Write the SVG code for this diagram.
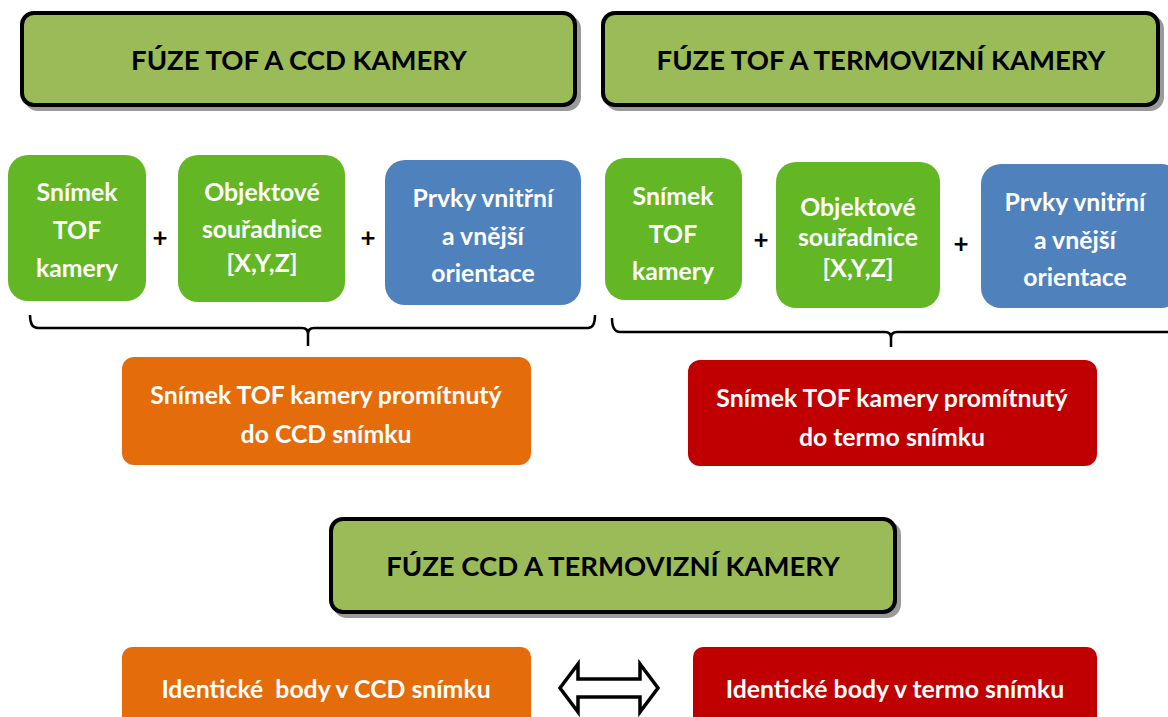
<svg xmlns="http://www.w3.org/2000/svg" width="1168" height="717" viewBox="0 0 1168 717">
  <style>
    .hdr { fill: #9BBB59; stroke: #000; stroke-width: 4; }
    .shadow { fill: #9a9a9a; stroke: #9a9a9a; stroke-width: 4; }
    .htxt { font-family: Lato, "Liberation Sans", sans-serif; font-weight: bold; font-size: 27.5px; fill: #000; text-anchor: middle; }
    .btxt { font-family: Lato, "Liberation Sans", sans-serif; font-weight: bold; font-size: 24.8px; fill: #fff; text-anchor: middle; }
    .plus { font-family: Lato, "Liberation Sans", sans-serif; font-weight: bold; font-size: 26px; fill: #000; text-anchor: middle; }
    .green { fill: #63B624; }
    .blue { fill: #4F81BD; }
    .orange { fill: #E46C0A; }
    .red { fill: #C00000; }
    .brace { fill: none; stroke: #000; stroke-width: 2.5; stroke-linejoin: round; }
  </style>

  <!-- header: TOF + CCD -->
  <g id="hdr-tof-ccd">
    <rect class="shadow" x="26" y="17" width="553" height="92" rx="12"/>
    <rect class="hdr" x="22" y="13" width="553" height="92" rx="12"/>
    <text class="htxt" x="299" y="70">FÚZE TOF A CCD KAMERY</text>
  </g>

  <!-- header: TOF + thermal -->
  <g id="hdr-tof-termo">
    <rect class="shadow" x="607" y="17" width="555" height="92" rx="12"/>
    <rect class="hdr" x="603" y="13" width="555" height="92" rx="12"/>
    <text class="htxt" x="881" y="70">FÚZE TOF A TERMOVIZNÍ KAMERY</text>
  </g>

  <!-- left group inputs -->
  <g id="l-snimek">
    <rect class="green" x="8" y="155" width="138" height="146" rx="20"/>
    <text class="btxt" x="77" y="201">Snímek</text>
    <text class="btxt" x="77" y="239">TOF</text>
    <text class="btxt" x="77" y="277">kamery</text>
  </g>
  <g id="l-objekt">
    <rect class="green" x="178" y="155" width="167" height="147" rx="20"/>
    <text class="btxt" x="262" y="201">Objektové</text>
    <text class="btxt" x="262" y="238">souřadnice</text>
    <text class="btxt" x="262" y="272">[X,Y,Z]</text>
  </g>
  <g id="l-prvky">
    <rect class="blue" x="385" y="160" width="196" height="145" rx="20"/>
    <text class="btxt" x="483" y="207">Prvky vnitřní</text>
    <text class="btxt" x="483" y="245">a vnější</text>
    <text class="btxt" x="483" y="282">orientace</text>
  </g>
  <text class="plus" x="160" y="247">+</text>
  <text class="plus" x="368" y="247">+</text>

  <!-- right group inputs -->
  <g id="r-snimek">
    <rect class="green" x="605" y="158" width="137" height="142" rx="20"/>
    <text class="btxt" x="673" y="205">Snímek</text>
    <text class="btxt" x="673" y="243">TOF</text>
    <text class="btxt" x="673" y="280">kamery</text>
  </g>
  <g id="r-objekt">
    <rect class="green" x="776" y="162" width="164" height="146" rx="20"/>
    <text class="btxt" x="858" y="216">Objektové</text>
    <text class="btxt" x="858" y="246">souřadnice</text>
    <text class="btxt" x="858" y="277">[X,Y,Z]</text>
  </g>
  <g id="r-prvky">
    <rect class="blue" x="981" y="164" width="200" height="144" rx="20"/>
    <text class="btxt" x="1075" y="211">Prvky vnitřní</text>
    <text class="btxt" x="1075" y="249">a vnější</text>
    <text class="btxt" x="1075" y="286">orientace</text>
  </g>
  <text class="plus" x="761" y="249">+</text>
  <text class="plus" x="961" y="253">+</text>

  <!-- results -->
  <g id="l-result">
    <rect class="orange" x="122" y="357" width="409" height="108" rx="12"/>
    <text class="btxt" x="326" y="404">Snímek TOF kamery promítnutý</text>
    <text class="btxt" x="326" y="443">do CCD snímku</text>
  </g>
  <g id="r-result">
    <rect class="red" x="688" y="360" width="409" height="106" rx="12"/>
    <text class="btxt" x="892" y="407">Snímek TOF kamery promítnutý</text>
    <text class="btxt" x="892" y="446">do termo snímku</text>
  </g>

  <!-- header: CCD + thermal -->
  <g id="hdr-ccd-termo">
    <rect class="shadow" x="335" y="523" width="564" height="93" rx="12"/>
    <rect class="hdr" x="331" y="519" width="564" height="93" rx="12"/>
    <text class="htxt" x="613" y="576">FÚZE CCD A TERMOVIZNÍ KAMERY</text>
  </g>

  <g id="b-ccd">
    <rect class="orange" x="122" y="647" width="409" height="90" rx="10"/>
    <text class="btxt" x="326" y="698" xml:space="preserve">Identické  body v CCD snímku</text>
  </g>
  <g id="b-termo">
    <rect class="red" x="693" y="647" width="404" height="90" rx="10"/>
    <text class="btxt" x="895" y="698">Identické body v termo snímku</text>
  </g>

  <!-- connectors: grouping braces and correspondence arrow -->
  <g id="connectors">
    <path class="brace" d="M30,315 Q30,328 38,328 L302,328 Q308,328 308,334 Q308,328 314,328 L588,328 Q595,328 595,315 M308,334 L308,346"/>
    <path class="brace" d="M612,318 Q612,332 620,332 L885,332 Q891,332 891,338 Q891,332 897,332 L1170,332 M891,338 L891,347"/>
    <polygon points="560,688 578,664 578,679 640,679 640,664 658,688 640,712 640,697 578,697 578,712" fill="#fff" stroke="#000" stroke-width="3.5" stroke-linejoin="miter"/>
  </g>
</svg>
